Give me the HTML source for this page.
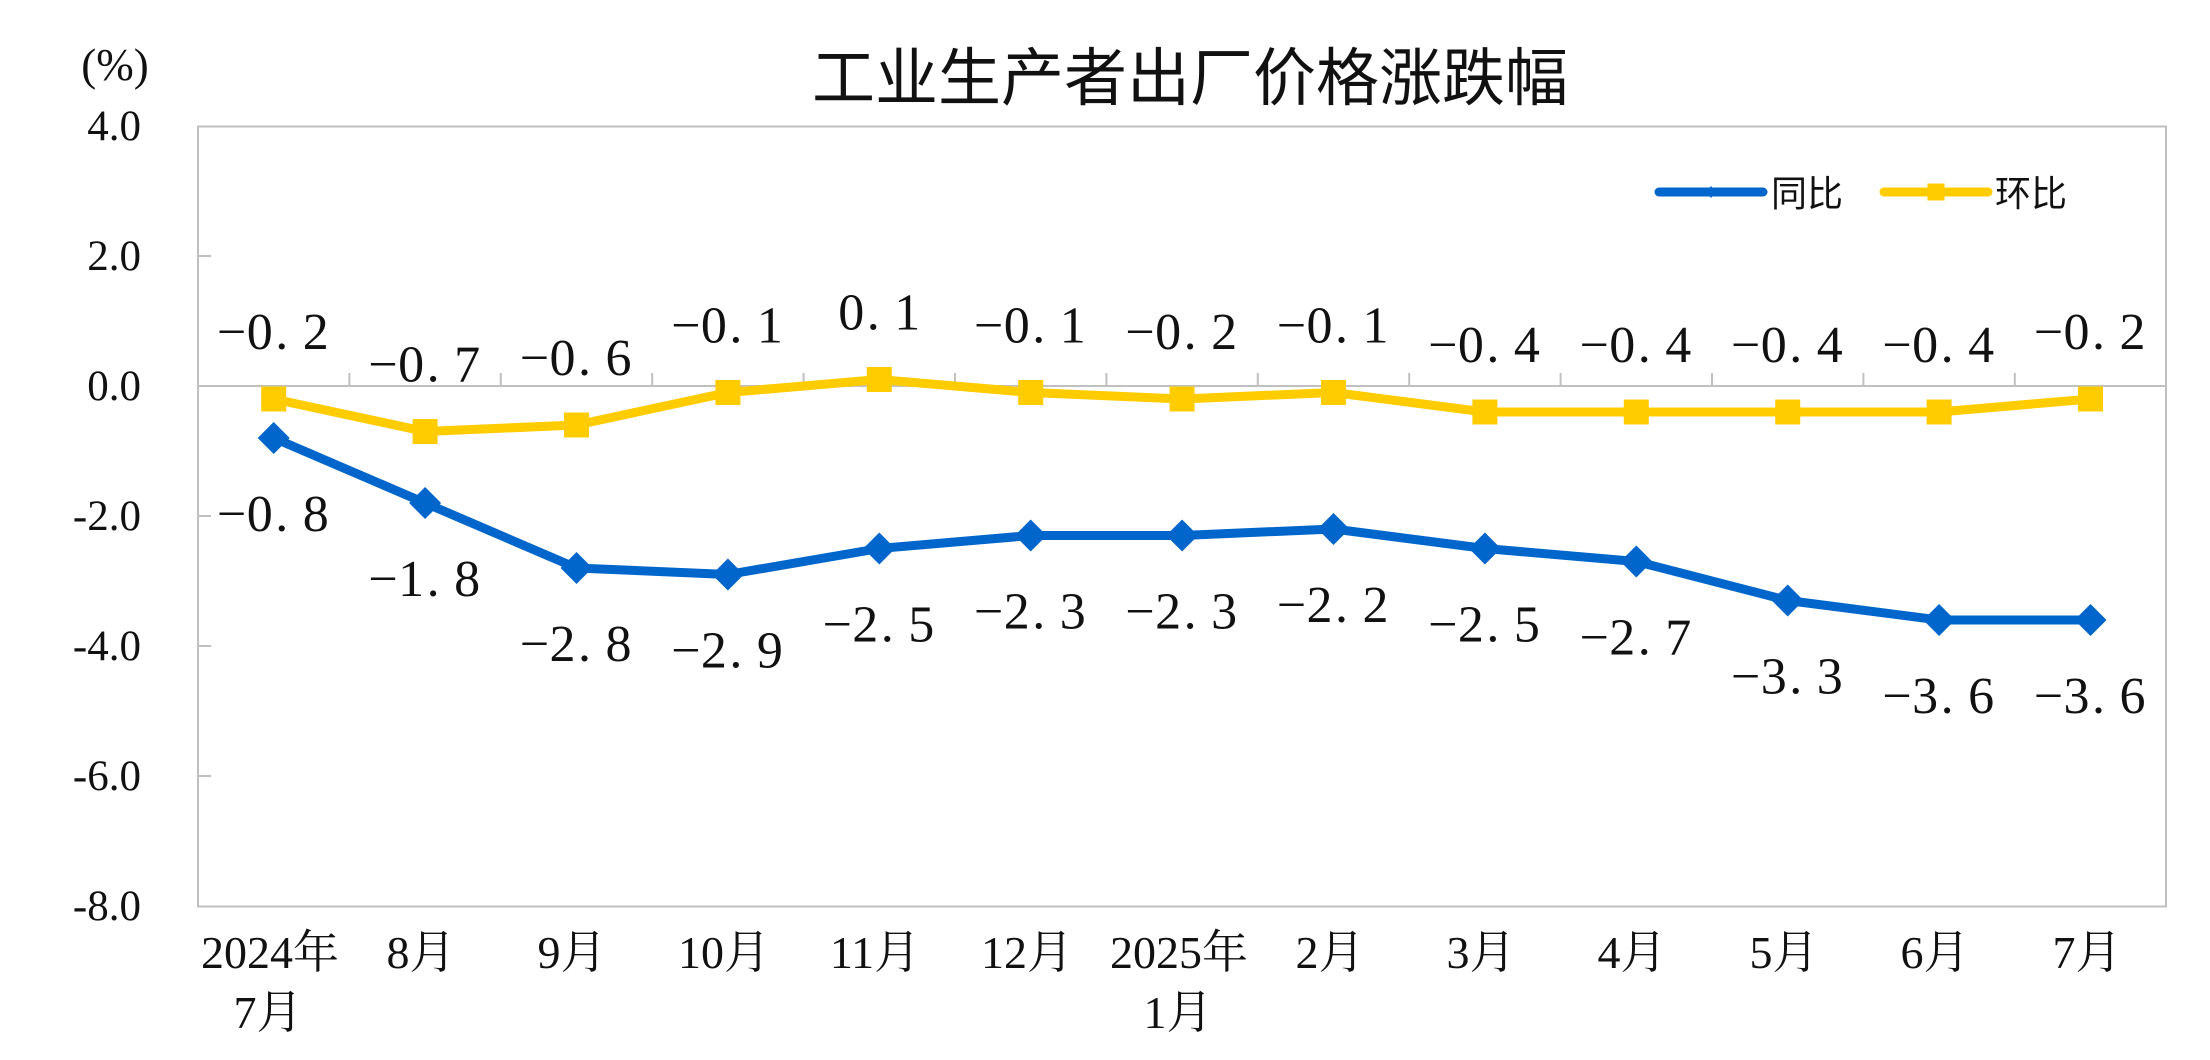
<!DOCTYPE html>
<html>
<head>
<meta charset="utf-8">
<style>
html,body{margin:0;padding:0;background:#fff;}
svg{display:block;}
.lab{font-family:"Liberation Serif","Noto Serif CJK SC",serif;font-size:52px;fill:#111;}
.yl{font-family:"Liberation Serif",serif;font-size:43px;fill:#111;}
.xl{font-family:"Liberation Serif","Noto Serif CJK SC",serif;font-size:46px;fill:#111;}
</style>
</head>
<body>
<svg width="2210" height="1060" viewBox="0 0 2210 1060" xmlns="http://www.w3.org/2000/svg">
<rect x="0" y="0" width="2210" height="1060" fill="#fff"/>

<!-- title -->
<text x="1190" y="100" text-anchor="middle" font-family="'Noto Sans CJK SC','WenQuanYi Zen Hei',sans-serif" font-size="63" font-weight="400" fill="#111">工业生产者出厂价格涨跌幅</text>

<!-- unit -->
<text x="115" y="80" text-anchor="middle" font-family="'Liberation Serif',serif" font-size="45" fill="#111">(%)</text>

<!-- plot border -->
<rect x="198" y="126.5" width="1968" height="780" fill="none" stroke="#c0c0c0" stroke-width="2"/>
<!-- zero line -->
<line x1="198" y1="386" x2="2166" y2="386" stroke="#c0c0c0" stroke-width="2"/>

<!-- y ticks -->
<g stroke="#c0c0c0" stroke-width="2">
<line x1="198" y1="256" x2="211" y2="256"/>
<line x1="198" y1="516" x2="211" y2="516"/>
<line x1="198" y1="646" x2="211" y2="646"/>
<line x1="198" y1="776" x2="211" y2="776"/>
<!-- category ticks -->
<line x1="349.4" y1="386" x2="349.4" y2="373"/>
<line x1="500.8" y1="386" x2="500.8" y2="373"/>
<line x1="652.2" y1="386" x2="652.2" y2="373"/>
<line x1="803.6" y1="386" x2="803.6" y2="373"/>
<line x1="955" y1="386" x2="955" y2="373"/>
<line x1="1106.4" y1="386" x2="1106.4" y2="373"/>
<line x1="1257.8" y1="386" x2="1257.8" y2="373"/>
<line x1="1409.2" y1="386" x2="1409.2" y2="373"/>
<line x1="1560.6" y1="386" x2="1560.6" y2="373"/>
<line x1="1712" y1="386" x2="1712" y2="373"/>
<line x1="1863.4" y1="386" x2="1863.4" y2="373"/>
<line x1="2014.8" y1="386" x2="2014.8" y2="373"/>
</g>

<!-- y labels -->
<g class="yl" text-anchor="end">
<text x="141" y="140">4.0</text>
<text x="141" y="270">2.0</text>
<text x="141" y="400">0.0</text>
<text x="141" y="530">-2.0</text>
<text x="141" y="660">-4.0</text>
<text x="141" y="790">-6.0</text>
<text x="141" y="920">-8.0</text>
</g>

<!-- x labels -->
<g class="xl" text-anchor="middle">
<text x="270" y="968">2024年</text>
<text x="268" y="1028">7月</text>
<text x="421" y="968">8月</text>
<text x="572" y="968">9月</text>
<text x="724" y="968">10月</text>
<text x="875" y="968">11月</text>
<text x="1027" y="968">12月</text>
<text x="1179" y="968">2025年</text>
<text x="1178" y="1028">1月</text>
<text x="1330" y="968">2月</text>
<text x="1481" y="968">3月</text>
<text x="1632" y="968">4月</text>
<text x="1784" y="968">5月</text>
<text x="1935" y="968">6月</text>
<text x="2087" y="968">7月</text>
</g>

<!-- series lines -->
<polyline fill="none" stroke="#0066CC" stroke-width="9" stroke-linejoin="round" stroke-linecap="round"
 points="273.7,438 425.1,503 576.5,568 727.9,574.5 879.3,548.5 1030.7,535.5 1182.1,535.5 1333.5,529 1484.9,548.5 1636.3,561.5 1787.7,600.5 1939.1,620 2090.5,620"/>
<polyline fill="none" stroke="#FFCC00" stroke-width="9" stroke-linejoin="round" stroke-linecap="round"
 points="273.7,399 425.1,431.5 576.5,425 727.9,392.5 879.3,379.5 1030.7,392.5 1182.1,399 1333.5,392.5 1484.9,412 1636.3,412 1787.7,412 1939.1,412 2090.5,399"/>

<defs>
<polygon id="dm" points="0,-16 16,0 0,16 -16,0" fill="#0066CC"/>
<rect id="sq" x="-12.5" y="-12.5" width="25" height="25" fill="#FFCC00"/>
</defs>
<!-- blue markers -->
<use href="#dm" x="273.7" y="438"/>
<use href="#dm" x="425.1" y="503"/>
<use href="#dm" x="576.5" y="568"/>
<use href="#dm" x="727.9" y="574.5"/>
<use href="#dm" x="879.3" y="548.5"/>
<use href="#dm" x="1030.7" y="535.5"/>
<use href="#dm" x="1182.1" y="535.5"/>
<use href="#dm" x="1333.5" y="529"/>
<use href="#dm" x="1484.9" y="548.5"/>
<use href="#dm" x="1636.3" y="561.5"/>
<use href="#dm" x="1787.7" y="600.5"/>
<use href="#dm" x="1939.1" y="620"/>
<use href="#dm" x="2090.5" y="620"/>
<!-- yellow markers -->
<use href="#sq" x="273.7" y="399"/>
<use href="#sq" x="425.1" y="431.5"/>
<use href="#sq" x="576.5" y="425"/>
<use href="#sq" x="727.9" y="392.5"/>
<use href="#sq" x="879.3" y="379.5"/>
<use href="#sq" x="1030.7" y="392.5"/>
<use href="#sq" x="1182.1" y="399"/>
<use href="#sq" x="1333.5" y="392.5"/>
<use href="#sq" x="1484.9" y="412"/>
<use href="#sq" x="1636.3" y="412"/>
<use href="#sq" x="1787.7" y="412"/>
<use href="#sq" x="1939.1" y="412"/>
<use href="#sq" x="2090.5" y="399"/>

<!-- yellow data labels -->
<g class="lab" text-anchor="middle">
<text x="231.7 259.7 281.7 315.7" y="349">−0.2</text>
<text x="383.1 411.1 433.1 467.1" y="381.5">−0.7</text>
<text x="534.5 562.5 584.5 618.5" y="375">−0.6</text>
<text x="685.9 713.9 735.9 769.9" y="342.5">−0.1</text>
<text x="851.3 873.3 907.3" y="329.5">0.1</text>
<text x="988.7 1016.7 1038.7 1072.7" y="342.5">−0.1</text>
<text x="1140.1 1168.1 1190.1 1224.1" y="349">−0.2</text>
<text x="1291.5 1319.5 1341.5 1375.5" y="342.5">−0.1</text>
<text x="1442.9 1470.9 1492.9 1526.9" y="362">−0.4</text>
<text x="1594.3 1622.3 1644.3 1678.3" y="362">−0.4</text>
<text x="1745.7 1773.7 1795.7 1829.7" y="362">−0.4</text>
<text x="1897.1 1925.1 1947.1 1981.1" y="362">−0.4</text>
<text x="2048.5 2076.5 2098.5 2132.5" y="349">−0.2</text>
</g>

<!-- blue data labels -->
<g class="lab" text-anchor="middle">
<text x="231.7 259.7 281.7 315.7" y="531">−0.8</text>
<text x="383.1 411.1 433.1 467.1" y="596">−1.8</text>
<text x="534.5 562.5 584.5 618.5" y="661">−2.8</text>
<text x="685.9 713.9 735.9 769.9" y="667.5">−2.9</text>
<text x="837.3 865.3 887.3 921.3" y="641.5">−2.5</text>
<text x="988.7 1016.7 1038.7 1072.7" y="628.5">−2.3</text>
<text x="1140.1 1168.1 1190.1 1224.1" y="628.5">−2.3</text>
<text x="1291.5 1319.5 1341.5 1375.5" y="622">−2.2</text>
<text x="1442.9 1470.9 1492.9 1526.9" y="641.5">−2.5</text>
<text x="1594.3 1622.3 1644.3 1678.3" y="654.5">−2.7</text>
<text x="1745.7 1773.7 1795.7 1829.7" y="693.5">−3.3</text>
<text x="1897.1 1925.1 1947.1 1981.1" y="713">−3.6</text>
<text x="2048.5 2076.5 2098.5 2132.5" y="713">−3.6</text>
</g>

<!-- legend -->
<line x1="1659" y1="192" x2="1763" y2="192" stroke="#0066CC" stroke-width="9" stroke-linecap="round"/>
<polygon points="1711,186 1716,192 1711,198 1706,192" fill="#0066CC"/>
<text x="1771" y="206" font-family="'Noto Sans CJK SC','WenQuanYi Zen Hei',sans-serif" font-size="36" fill="#111">同比</text>
<line x1="1884" y1="192" x2="1988" y2="192" stroke="#FFCC00" stroke-width="9" stroke-linecap="round"/>
<rect x="1927.5" y="183.5" width="17" height="17" fill="#FFCC00"/>
<text x="1995" y="206" font-family="'Noto Sans CJK SC','WenQuanYi Zen Hei',sans-serif" font-size="36" fill="#111">环比</text>
</svg>
</body>
</html>
